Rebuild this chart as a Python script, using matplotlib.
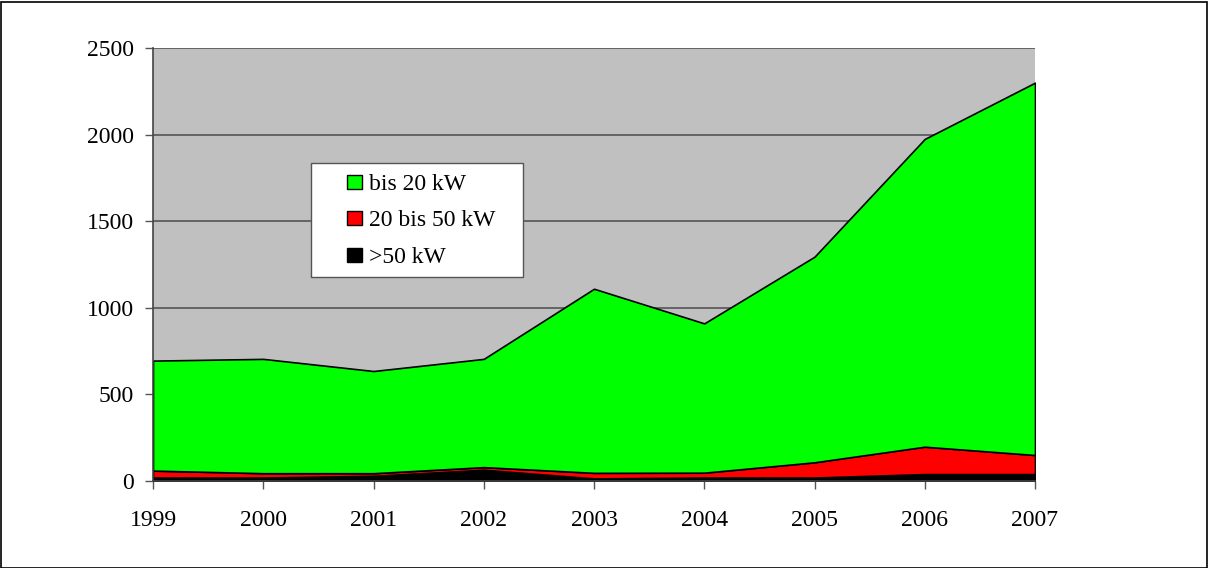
import numpy as np
import matplotlib.pyplot as plt
from matplotlib.patches import Rectangle

plt.rcParams['font.family'] = ['Liberation Serif', 'DejaVu Serif']

jahre = [1999, 2000, 2001, 2002, 2003, 2004, 2005, 2006, 2007]
gross = [20, 20, 30, 65, 15, 20, 20, 40, 40]          # >50 kW
mittel = [40, 25, 15, 15, 32, 28, 88, 158, 110]       # 20 bis 50 kW
klein = [635, 660, 590, 625, 1063, 862, 1187, 1777, 2150]  # bis 20 kW
namen = ['>50 kW', '20 bis 50 kW', 'bis 20 kW']
farben = ['#000000', '#ff0000', '#00ff00']

W, H = 1208, 568
fig = plt.figure(figsize=(W / 100, H / 100), dpi=100)
fig.patches.append(Rectangle((0.5 / W, 0.5 / H), 1 - 2 / W, 1 - 2 / H,
                             transform=fig.transFigure, fill=False,
                             edgecolor='black', linewidth=1.2))
ax = fig.add_axes([153 / W, 1 - 481 / H, (1035 - 153) / W, (481 - 48) / H])
ax.set_facecolor('#c0c0c0')

ax.stackplot(jahre, gross, mittel, klein, colors=farben,
             edgecolor='black', linewidth=1.2, labels=namen)

ax.set_xlim(1999, 2007)
ax.set_ylim(0, 2500)
ax.set_yticks(np.arange(0, 2501, 500))
ax.set_xticks(jahre)
ax.yaxis.grid(True, color='#555555', linewidth=1.2)
ax.set_axisbelow(True)
for s in ['top', 'right']:
    ax.spines[s].set_visible(False)
for s in ['left', 'bottom']:
    ax.spines[s].set_color('#444444')
    ax.spines[s].set_linewidth(1.2)
ax.tick_params(axis='both', direction='out', length=6, color='#555555',
               labelsize=17, width=1)
ax.tick_params(axis='x', pad=15)
ax.tick_params(axis='y', pad=8)

# legend box, drawn by hand in axes coordinates (pixel positions from the picture)
def ax_x(px):
    return (px - 153) / 882

def ax_y(py):
    return (481 - py) / 433

ax.add_patch(Rectangle((ax_x(311), ax_y(277)), ax_x(523) - ax_x(311), ax_y(163) - ax_y(277),
                       transform=ax.transAxes, facecolor='white', edgecolor='#555555',
                       linewidth=1, zorder=5))
zeilen = [182, 218, 255]
for py, name, farbe in zip(zeilen, namen[::-1], farben[::-1]):
    ax.add_patch(Rectangle((ax_x(347), ax_y(py + 7)), ax_x(362) - ax_x(347), ax_y(py - 7) - ax_y(py + 7),
                           transform=ax.transAxes, facecolor=farbe, edgecolor='black',
                           linewidth=1, zorder=6))
    ax.text(ax_x(369), ax_y(py), name, transform=ax.transAxes, fontsize=17,
            va='center_baseline', ha='left', zorder=7)

fig.savefig('out.png', dpi=100)
